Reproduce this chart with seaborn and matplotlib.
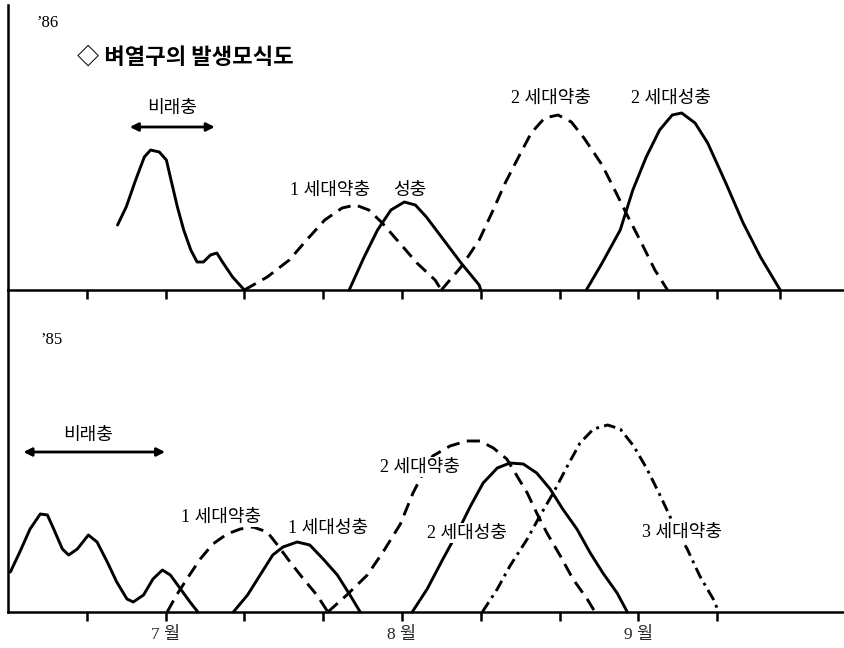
import matplotlib
matplotlib.use("Agg")
import matplotlib.pyplot as plt
import seaborn as sns
import pandas as pd

# x: days in season (30 = 7월 1일, 60 = 8월 1일, 90 = 9월 1일); y: relative abundance
# ---- '86 panel ----
t86_migrant_x = [23.9, 25.0, 26.2, 27.3, 28.1, 29.2, 30.1, 30.6, 31.5, 32.3, 33.2, 34.0, 34.8, 35.7, 36.5, 37.3, 38.5, 40.0]
t86_migrant_y = [65, 83, 110, 133, 140, 138, 130, 113, 83, 60, 40, 28, 28, 35, 37, 27, 13, 0]
t86_n1_x = [40.0, 42.9, 45.7, 47.9, 50.2, 52.4, 54.1, 55.8, 57.5, 59.7, 61.9, 64.2, 65.0]
t86_n1_y = [0, 13, 30, 50, 70, 82, 85, 80, 67, 47, 27, 10, 0]
t86_a1_x = [53.3, 55.2, 56.9, 58.6, 60.3, 61.7, 63.1, 65.3, 67.5, 69.8, 70.0]
t86_a1_y = [0, 33, 60, 80, 88, 85, 73, 50, 27, 5, 0]
t86_n2_x = [65.0, 67.5, 69.8, 71.4, 73.1, 74.8, 76.4, 78.1, 79.8, 81.5, 83.1, 85.4, 87.0, 88.7, 90.4, 92.1, 93.7]
t86_n2_y = [0, 23, 50, 77, 107, 133, 157, 172, 175, 168, 152, 125, 100, 73, 47, 20, 0]
t86_a2_x = [83.4, 85.4, 87.7, 89.3, 91.0, 92.7, 94.3, 95.5, 97.2, 98.8, 101.1, 103.3, 105.5, 108.0]
t86_a2_y = [0, 27, 60, 100, 133, 160, 175, 177, 167, 147, 107, 67, 33, 0]

# ---- '85 panel ----
t85_migrant_x = [10.3, 11.5, 12.8, 14.1, 15.0, 15.8, 16.9, 17.7, 18.8, 20.2, 21.3, 22.6, 23.8, 25.1, 25.9, 27.2, 28.4, 29.6, 30.6, 31.9, 33.1, 34.1]
t85_migrant_y = [40, 60, 83, 98, 97, 83, 63, 57, 63, 77, 70, 50, 30, 13, 10, 17, 33, 42, 37, 23, 10, 0]
t85_n1_x = [30.2, 31.4, 32.7, 34.4, 36.0, 37.8, 39.5, 41.1, 42.9, 44.2, 45.8, 47.5, 49.2, 50.6]
t85_n1_y = [0, 17, 33, 53, 68, 78, 83, 85, 80, 67, 50, 33, 17, 0]
t85_a1_x = [38.6, 40.4, 42.0, 43.6, 44.9, 46.7, 48.3, 50.0, 51.8, 53.4, 54.7]
t85_a1_y = [0, 17, 37, 57, 65, 70, 67, 53, 37, 17, 0]
t85_n2_x = [50.6, 53.0, 55.6, 57.6, 59.8, 61.4, 62.7, 63.9, 66.1, 68.2, 69.9, 71.6, 73.3, 74.6, 75.9, 77.1, 78.4, 80.1, 81.7, 83.5, 84.5]
t85_n2_y = [0, 17, 37, 60, 88, 119, 139, 156, 166, 171, 171, 164, 153, 136, 119, 99, 79, 56, 33, 13, 0]
t85_a2_x = [61.3, 63.2, 65.2, 67.0, 68.7, 70.3, 72.1, 73.7, 75.4, 77.1, 78.8, 80.4, 82.2, 83.9, 85.5, 87.3, 88.6]
t85_a2_y = [0, 23, 53, 79, 106, 129, 144, 149, 148, 139, 123, 103, 83, 59, 39, 19, 0]
t85_n3_x = [70.2, 72.1, 73.7, 75.9, 77.5, 79.2, 81.0, 82.6, 84.3, 86.1, 87.7, 89.4, 91.1, 92.8, 94.4, 96.2, 97.8, 99.5, 100.2]
t85_n3_y = [0, 23, 46, 73, 96, 119, 146, 169, 183, 187, 183, 166, 143, 116, 89, 63, 36, 13, 0]

tick_pos = [20, 30, 40, 50, 60, 70, 80, 90, 100]
tick_lab = ["", "7 월", "", "", "8 월", "", "", "9 월", ""]

sns.set_theme(style="white")
plt.rcParams["font.family"] = ["Liberation Serif", "Noto Sans CJK KR"]

W, H = 844, 648
fig = plt.figure(figsize=(W / 100, H / 100), dpi=100)
ax_top = fig.add_axes([8 / W, 1 - 290 / H, 1 - 8 / W, 285 / H])
ax_bot = fig.add_axes([8 / W, 1 - 612 / H, 1 - 8 / W, 322 / H])

SOLID = "-"
DASH = (0, (4.5, 2.6))
DASHDOT = (0, (4.0, 1.8, 1.0, 1.8))


def curve(ax, xs, ys, ls):
    df = pd.DataFrame({"x": xs, "y": ys})
    sns.lineplot(data=df, x="x", y="y", ax=ax, color="black", lw=2.1,
                 linestyle=ls, sort=False, estimator=None,
                 solid_joinstyle="round", dash_joinstyle="round",
                 solid_capstyle="round", clip_on=False, zorder=2)


curve(ax_top, t86_migrant_x, t86_migrant_y, SOLID)
curve(ax_top, t86_n1_x, t86_n1_y, DASH)
curve(ax_top, t86_a1_x, t86_a1_y, SOLID)
curve(ax_top, t86_n2_x, t86_n2_y, DASH)
curve(ax_top, t86_a2_x, t86_a2_y, SOLID)

curve(ax_bot, t85_migrant_x, t85_migrant_y, SOLID)
curve(ax_bot, t85_n1_x, t85_n1_y, DASH)
curve(ax_bot, t85_a1_x, t85_a1_y, SOLID)
curve(ax_bot, t85_n2_x, t85_n2_y, DASH)
curve(ax_bot, t85_a2_x, t85_a2_y, SOLID)
curve(ax_bot, t85_n3_x, t85_n3_y, DASHDOT)

for ax, top in ((ax_top, 285), (ax_bot, 322)):
    ax.set_xlim(10, 116.1)
    ax.set_ylim(0, top)
    ax.set_xlabel("")
    ax.set_ylabel("")
    ax.set_yticks([])
    for s in ("top", "right"):
        ax.spines[s].set_visible(False)
    for s in ("left", "bottom"):
        ax.spines[s].set_color("black")
        ax.spines[s].set_linewidth(1.8)
        ax.spines[s].set_zorder(3)
    ax.tick_params(axis="x", bottom=True, direction="out", length=6.5,
                   width=1.8, color="black", pad=4, labelsize=12.5)
    ax.patch.set_alpha(0)

ax_top.set_xticks(tick_pos + [108])
ax_top.set_xticklabels([""] * (len(tick_pos) + 1))
ax_bot.set_xticks(tick_pos)
ax_bot.set_xticklabels(tick_lab)

box = dict(facecolor="white", edgecolor="none", pad=1.0)
lab = dict(color="black", fontsize=13, ha="center", va="center", zorder=5, bbox=box)

# '86 panel texts
ax_top.text(13.6, 267, "’86", color="black", fontsize=12, ha="left", va="center")
ax_top.text(18.8, 233, "◇ 벼열구의 발생모식도", color="black", fontsize=16,
            ha="left", va="center", family="Noto Sans CJK KR", weight="bold")
ax_top.text(30.8, 182, "비래충", **lab)
ax_top.annotate("", xy=(36.6, 163), xytext=(25.1, 163),
                arrowprops=dict(arrowstyle="<|-|>", lw=2.0, color="black", mutation_scale=12))
ax_top.text(50.9, 100, "1 세대약충", **lab)
ax_top.text(61.0, 100, "성충", **lab)
ax_top.text(78.9, 192, "2 세대약충", **lab)
ax_top.text(94.2, 192, "2 세대성충", **lab)

# '85 panel texts
ax_bot.text(14.1, 272, "’85", color="black", fontsize=12, ha="left", va="center")
ax_bot.text(20.2, 177, "비래충", **lab)
ax_bot.annotate("", xy=(30.3, 160), xytext=(11.6, 160),
                arrowprops=dict(arrowstyle="<|-|>", lw=2.0, color="black", mutation_scale=12))
ax_bot.text(37.0, 95, "1 세대약충", **lab)
ax_bot.text(50.6, 84, "1 세대성충", **lab)
ax_bot.text(62.3, 145, "2 세대약충", **lab)
ax_bot.text(68.3, 79, "2 세대성충", **lab)
ax_bot.text(95.6, 80, "3 세대약충", **lab)

fig.savefig("out.png", dpi=100, facecolor="white")
